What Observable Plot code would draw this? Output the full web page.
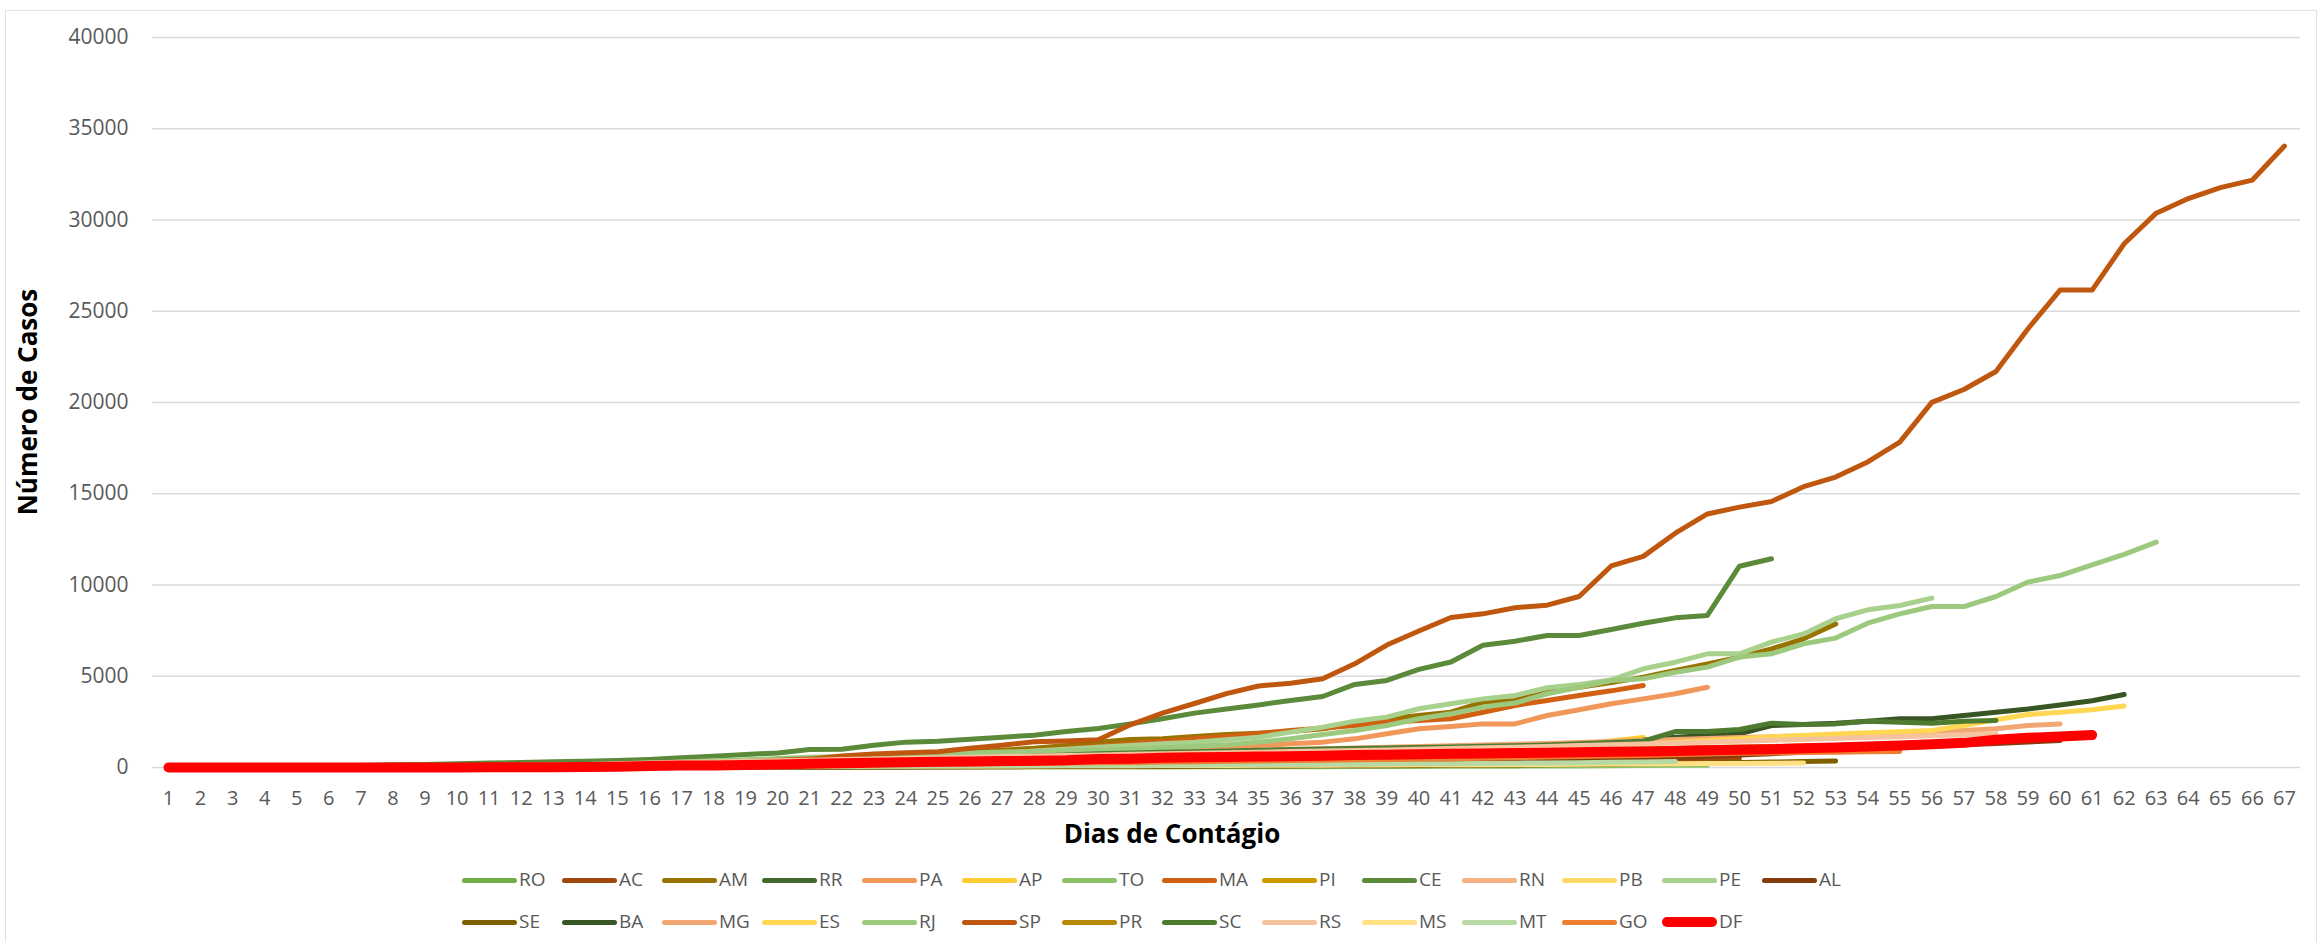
<!DOCTYPE html>
<html>
<head>
<meta charset="utf-8">
<script src="https://cdn.jsdelivr.net/npm/d3@7"></script>
<script src="https://cdn.jsdelivr.net/npm/@observablehq/plot@0.6"></script>
<style>
html, body { margin: 0; padding: 0; background: #fff; overflow: hidden; }
#wrap { position: relative; width: 2321px; height: 942px; overflow: hidden; font-family: "Open Sans", sans-serif; }
#frame { position: absolute; left: 5px; top: 10px; width: 2312px; height: 960px; border: 1px solid #e2e2e2; box-sizing: border-box; }
#chart { position: absolute; left: 0; top: 0; }
.title { position: absolute; font-weight: bold; font-size: 26px; color: #000; text-align: center; white-space: nowrap; }
.sw { position: absolute; border-radius: 5px; }
.lab { position: absolute; font-size: 19px; color: #595959; height: 28px; line-height: 28px; white-space: nowrap; }
</style>
</head>
<body>
<div id="wrap">
  <div id="frame"></div>
  <div id="chart"></div>
  <div class="title" style="left:872px; top:816px; width:600px; height:34px; line-height:34px;">Dias de Contágio</div>
  <div class="title" style="left:-173px; top:385px; width:400px; height:34px; line-height:34px; transform: rotate(-90deg);">Número de Casos</div>
  <div id="legend"></div>
</div>
<script>
// ---- categories / ticks ----
const days = [1,2,3,4,5,6,7,8,9,10,11,12,13,14,15,16,17,18,19,20,21,22,23,24,25,26,27,28,29,30,31,32,33,34,35,36,37,38,39,40,41,42,43,44,45,46,47,48,49,50,51,52,53,54,55,56,57,58,59,60,61,62,63,64,65,66,67];
const yTicks = [0,5000,10000,15000,20000,25000,30000,35000,40000];
const states = ["RO","AC","AM","RR","PA","AP","TO","MA","PI","CE","RN","PB","PE","AL","SE","BA","MG","ES","RJ","SP","PR","SC","RS","MS","MT","GO","DF"];
const colors = ["#70AD47","#9E480E","#997300","#43682B","#F1975A","#FFCD33","#8CC168","#D26012","#CC9900","#5B8A3B","#F4B183","#FFD966","#A9D18E","#843C0C","#7F6000","#375623","#F2A773","#FFD752","#9DC97E","#C0570F","#B58900","#4E7B30","#F6C3A0","#FFE083","#B8D9A3","#ED7D31","#FF0000"];

// ---- series values (cases by day of contagion) ----
const RO = [1,1,2,3,4,5,5,6,8,9,13,15,18,22,28,30,34,40,45,50,56,62,68,75,82,90,98,106,115,125,135,145,158,172,188,205,225,250,280,310,350,400,460,540,620,720,850];
const AC = [3,3,4,4,7,11,17,21,23,25,34,41,42,43,45,48,50,52,54,62,70,75,80,86,92,98,104,110,116,122,130,140,150,160,170,180,190,200,215,230,250,270,290,310,340,370,400,430,470,510];
const AM = [1,1,2,2,3,11,26,32,47,67,81,111,140,151,175,200,260,324,350,417,500,560,630,700,780,870,950,1050,1200,1390,1530,1570,1700,1810,1880,1970,2120,2390,2670,2850,3030,3580,3670,4130,4400,4650,4950,5320,5680,6050,6500,7050,7870];
const RR = [2,2,2,8,10,10,10,12,14,16,16,17,18,23,25,27,30,32,35,40,44,48,52,56,60,66,72,78,84,90,98,106,114,122,130,140,150,162,175,190,210,240,270,310,350,400];
const PA = [1,1,2,2,4,4,5,10,13,18,24,33,41,63,80,94,120,140,170,200,240,280,330,380,430,490,550,620,700,840,930,990,1060,1130,1200,1300,1390,1570,1850,2120,2250,2390,2390,2850,3160,3490,3760,4040,4400];
const AP = [1,1,1,1,1,1,1,2,2,4,8,16,20,27,34,45,56,77,99,124,145,165,180,200,220,240,260,280,300,330,360,400,440,480,520,560,600,650,700,760,830,920,1020,1140,1280,1450,1650];
const TO = [1,1,1,1,1,2,5,7,7,7,8,9,9,9,10,10,11,12,12,13,13,14,16,18,20,22,24,26,28,30,32,34,36,38,40,43,46,50,54,58,63,68,74,80,88,96,106,118,130];
const MA = [1,2,2,3,8,10,12,22,31,39,57,68,80,100,119,150,180,220,260,300,350,400,460,520,600,680,780,900,1030,1150,1300,1420,1560,1700,1860,2030,2170,2300,2480,2580,2670,3030,3400,3670,3950,4200,4490];
const PI = [1,1,2,3,4,6,8,9,10,12,14,16,18,20,22,24,26,28,30,33,36,40,44,48,52,56,60,66,72,78,85,92,100,108,116,125,135,145,160,175,195,215,240,270,300,340,390,440];
const CE = [3,9,10,20,40,70,110,150,170,200,240,280,310,340,380,440,530,620,710,800,985,1000,1220,1390,1440,1550,1660,1770,1970,2140,2390,2670,2980,3210,3430,3670,3890,4550,4770,5380,5780,6700,6920,7230,7230,7560,7900,8200,8330,11030,11440];
const RN = [1,1,1,1,2,2,3,5,9,13,19,28,40,54,77,90,100,110,120,130,140,155,170,190,210,230,250,270,290,310,330,350,370,390,410,430,450,470,500,530,560,590,620,650,690,730,780,830,880,940,990,1030,1070,1110,1150];
const PB = [1,1,1,1,1,1,1,1,2,2,3,3,5,9,13,15,20,27,34,40,46,52,58,64,70,80,90,100,110,120,135,150,170,190,210,230,250,270,300,330,370,410,460,510,570,630,700,790,880];
const PE = [2,2,4,7,16,19,28,30,37,42,46,56,62,68,73,84,112,130,166,223,300,360,420,480,540,600,750,900,1000,1110,1200,1300,1390,1520,1660,1940,2210,2540,2760,3220,3490,3760,3950,4370,4550,4800,5410,5770,6230,6230,6870,7320,8150,8640,8880,9280];
const AL = [1,1,1,1,1,1,1,1,1,2,3,5,7,9,10,11,14,17,20,23,26,29,31,34,37,40,45,50,56,62,70,80,90,100,115,130,150,170,190,215,240,270,300,340,380,430,480,540,600,680,760,840,920,1000,1080,1160,1240,1320,1400,1480];
const SE = [1,1,1,5,5,5,5,6,10,10,11,15,16,16,16,16,18,21,26,29,31,33,36,39,42,45,48,52,56,60,64,68,72,76,80,85,90,95,100,110,120,130,140,150,165,180,200,220,240,270,300,330,360];
const BA = [1,2,2,2,2,2,2,3,10,27,30,34,41,55,76,104,115,176,221,254,300,340,370,400,440,480,520,560,610,660,700,730,760,800,830,870,900,940,980,1020,1060,1100,1130,1160,1206,1330,1500,1660,1750,1845,2300,2360,2430,2540,2670,2670,2850,3030,3200,3420,3660,4000];
const MG = [1,1,1,1,1,1,1,2,4,7,15,21,38,83,128,133,153,189,205,261,314,370,397,430,490,525,560,600,650,700,760,800,850,890,940,980,1030,1070,1110,1150,1190,1230,1270,1320,1370,1430,1480,1540,1590,1640,1690,1740,1790,1850,1910,1960,2030,2120,2300,2390];
const ES = [1,1,1,1,1,1,1,4,7,9,9,11,18,26,33,44,53,62,78,92,105,120,140,160,190,220,250,280,320,360,400,440,480,520,560,610,660,720,780,840,900,960,1020,1090,1160,1220,1290,1380,1480,1580,1680,1760,1830,1900,1960,2030,2300,2620,2900,3030,3170,3370];
const RJ = [1,1,2,2,8,13,16,19,31,33,65,86,109,119,186,233,305,370,421,493,558,600,657,708,760,800,850,880,930,970,1020,1080,1150,1240,1390,1570,1810,2030,2300,2670,2940,3310,3530,4040,4400,4770,4860,5220,5500,6050,6230,6780,7090,7910,8420,8820,8820,9370,10160,10520,11100,11680,12350];
const SP = [2,2,2,3,6,10,13,16,19,25,30,46,56,65,136,152,164,240,286,396,459,631,745,810,862,1052,1223,1406,1451,1517,2339,2981,3506,4048,4466,4620,4866,5682,6708,7480,8216,8419,8755,8895,9371,11043,11568,12841,13894,14267,14580,15385,15914,16740,17826,20004,20715,21696,24041,26158,26158,28698,30374,31174,31772,32187,34053];
const PR = [6,6,7,18,20,23,36,43,50,60,70,81,99,119,143,170,190,210,230,260,290,330,370,400,430,460,490,510,530,560,590,620,650,680,700,720,740,760,790,820,850,880,910,940,970,1000,1030,1060,1090,1120,1150,1180,1210,1250,1290];
const SC = [2,2,3,7,7,9,21,37,51,68,86,109,149,187,194,220,235,263,285,301,340,380,410,450,500,540,580,630,690,750,790,830,860,900,940,980,1010,1040,1070,1100,1130,1160,1190,1230,1300,1370,1440,1970,1970,2080,2430,2360,2390,2540,2480,2430,2540,2580];
const RS = [1,1,2,4,6,10,19,28,46,62,86,107,141,168,209,241,283,307,340,368,400,440,470,500,530,560,600,630,660,690,720,750,780,810,840,870,900,930,960,1000,1040,1080,1110,1150,1200,1250,1290,1340,1390,1440,1490,1540,1590,1640,1690,1740,1790,1845];
const MS = [2,4,7,11,16,21,21,24,27,30,36,40,44,44,50,55,60,64,67,70,72,74,76,79,81,84,86,90,94,98,102,106,110,115,120,125,130,135,140,145,150,155,160,165,175,185,195,205,215,225,232,240];
const MT = [1,1,1,2,2,3,3,6,11,11,12,13,16,18,22,28,33,36,40,47,54,60,66,72,78,84,90,98,106,114,122,130,138,146,155,164,173,182,192,202,212,224,236,250,266,284,305,330];
const GO = [3,3,4,8,12,14,20,21,25,29,32,39,46,56,60,66,80,96,110,124,134,150,160,170,180,195,210,225,240,260,280,300,320,340,360,380,400,420,440,460,480,510,540,570,600,630,660,700,740,780,800,820,840,860,880];
const DF = [1,1,1,1,2,2,2,2,3,5,9,11,18,24,42,76,103,116,131,160,200,235,260,290,312,333,355,370,400,470,484,530,560,580,600,620,650,680,700,730,750,770,790,810,840,860,880,910,940,970,1000,1050,1100,1150,1200,1270,1350,1516,1626,1700,1780];

// ---- table built from the arrays ----
const seriesByState = {RO, AC, AM, RR, PA, AP, TO, MA, PI, CE, RN, PB, PE, AL, SE, BA, MG, ES, RJ, SP, PR, SC, RS, MS, MT, GO, DF};
const rows = states.flatMap(s => seriesByState[s].map((v, i) => ({state: s, day: days[i], cases: v})));

const chart = Plot.plot({
  width: 2321,
  height: 860,
  marginLeft: 152,
  marginRight: 21,
  marginTop: 37,
  marginBottom: 93,
  style: {fontFamily: '"Open Sans", sans-serif', color: "#595959", background: "transparent", overflow: "visible"},
  x: {domain: [0.5, 67.5], label: null},
  y: {domain: [0, 40000], label: null},
  color: {domain: states, range: colors},
  marks: [
    Plot.gridY(yTicks, {stroke: "#d9d9d9", strokeOpacity: 1, strokeWidth: 1.5}),
    Plot.axisY(yTicks, {tickSize: 0, tickPadding: 24, tickFormat: d3.format("d"), fontSize: 21, label: null}),
    Plot.axisX(days, {tickSize: 0, tickPadding: 23, tickFormat: d => String(d), fontSize: 20, label: null}),
    Plot.line(rows.filter(d => d.state !== "DF"), {x: "day", y: "cases", z: "state", stroke: "state", strokeWidth: 5, strokeLinecap: "round", strokeLinejoin: "round"}),
    Plot.line(rows.filter(d => d.state === "DF"), {x: "day", y: "cases", z: "state", stroke: "state", strokeWidth: 10, strokeLinecap: "round", strokeLinejoin: "round"})
  ]
});
document.getElementById("chart").appendChild(chart);

// ---- legend (two rows, fixed-width columns) ----
const legend = document.getElementById("legend");
const rowY = [880, 922];
states.forEach((s, i) => {
  const row = i < 14 ? 0 : 1;
  const col = row === 0 ? i : i - 14;
  const x = 462 + col * 100;
  const h = s === "DF" ? 10 : 5;
  const sw = document.createElement("div");
  sw.className = "sw";
  sw.style.left = x + "px";
  sw.style.top = (rowY[row] - h / 2) + "px";
  sw.style.width = "55px";
  sw.style.height = h + "px";
  sw.style.background = colors[i];
  legend.appendChild(sw);
  const lab = document.createElement("div");
  lab.className = "lab";
  lab.style.left = (x + 57) + "px";
  lab.style.top = (rowY[row] - 15) + "px";
  lab.textContent = s;
  legend.appendChild(lab);
});
</script>
</body>
</html>
